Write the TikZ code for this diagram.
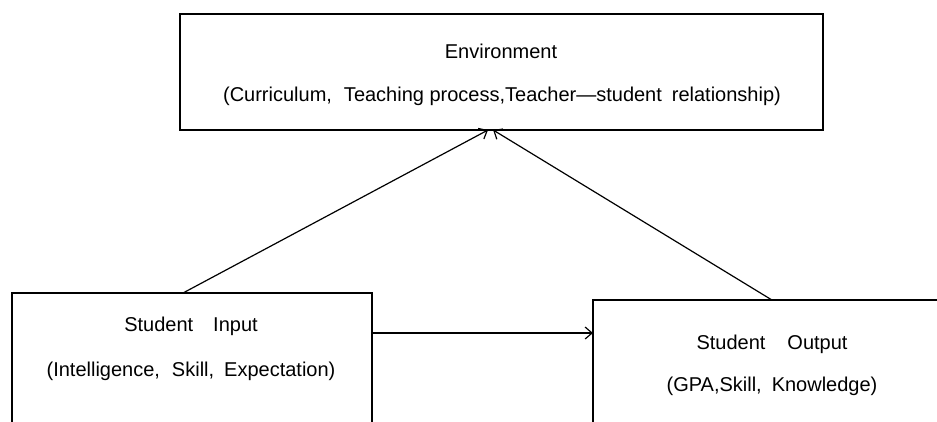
\documentclass[tikz,border=0pt]{standalone}
\usepackage{fontspec}
\setmainfont{Liberation Sans}
\usetikzlibrary{arrows.meta,calc}
\begin{document}
\begin{tikzpicture}[x=1pt,y=-1pt,
  box/.style={draw=black, line width=1.4pt, inner sep=0pt, outer sep=0pt},
  lbl/.style={font=\fontsize{20}{24}\selectfont, anchor=base, inner sep=0pt},
  arr/.style={-{Straight Barb[length=7pt,width=12pt,line width=1.2pt]}, line width=1.2pt, draw=black}]
\useasboundingbox (0,0) rectangle (937,421);
\clip (0,0) rectangle (937,421);
\node[box, minimum width=643pt, minimum height=116pt, anchor=north west] (env) at (180,14) {};
\node[box, minimum width=360pt, minimum height=220pt, anchor=north west] (in) at (12,293) {};
\node[box, minimum width=420pt, minimum height=220pt, anchor=north west] (out) at (593,300) {};
\node[lbl] (envt) at (501,58) {Environment};
\node[lbl] (envd) at (502,101) {(Curriculum,\hspace{12pt}Teaching process,Teacher—student\hspace{10pt}relationship)};
\node[lbl] (int) at (191,331) {Student\hspace{20pt}Input};
\node[lbl] (ind) at (191,376) {(Intelligence,\hspace{12pt}Skill,\hspace{10pt}Expectation)};
\node[lbl] (outt) at (772,349) {Student\hspace{22pt}Output};
\node[lbl] (outd) at (772,391) {(GPA,Skill,\hspace{10pt}Knowledge)};
\coordinate (a1s) at ($(in.north west)!0.475!(in.north east)$);
\coordinate (a1e) at ($(env.south west)!0.479!(env.south east)$);
\coordinate (a2s) at ($(out.north west)!0.426!(out.north east)$);
\coordinate (a2e) at ($(env.south west)!0.487!(env.south east)$);
\coordinate (a3s) at ($(in.north east)+(0,40)$);
\draw[arr] (a1s) -- (a1e);
\draw[arr] (a2s) -- (a2e);
\draw[arr] (a3s) -- (a3s -| out.west);
\end{tikzpicture}
\end{document}
